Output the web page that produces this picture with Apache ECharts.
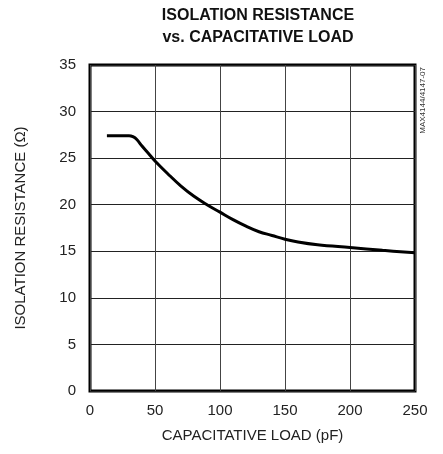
<!DOCTYPE html>
<html>
<head>
<meta charset="utf-8">
<script src="https://cdn.jsdelivr.net/npm/echarts@6/dist/echarts.min.js"></script>
<style>
html,body{margin:0;padding:0;background:#fff;}
#chart{width:443px;height:454px;}
</style>
</head>
<body>
<div id="chart"></div>
<script>
// values
var loadPF = [13, 20, 30, 33, 36, 40, 45, 50, 60, 70, 80, 90, 100, 110, 120, 130, 140, 150, 160, 175, 200, 225, 250];
var resistance = [27.4, 27.4, 27.4, 27.3, 27.0, 26.3, 25.5, 24.7, 23.3, 22.0, 20.9, 20.0, 19.2, 18.4, 17.7, 17.1, 16.7, 16.3, 16.0, 15.7, 15.4, 15.1, 14.85];

var font = '"Liberation Sans Narrow", "Liberation Sans", Arial, sans-serif';
var pts = loadPF.map(function (x, i) { return [x, resistance[i]]; });

var chart = echarts.init(document.getElementById('chart'));
chart.setOption({
    animation: false,
    title: {
        text: 'ISOLATION RESISTANCE\nvs. CAPACITATIVE LOAD',
        left: 253,
        top: 0,
        textAlign: 'center',
        textStyle: { fontFamily: font, fontWeight: 'bold', fontSize: 16, lineHeight: 22, color: '#111' }
    },
    grid: {
        left: 90, right: 28, top: 65, bottom: 63,
        show: true, borderColor: '#000', borderWidth: 3, backgroundColor: '#fff'
    },
    xAxis: {
        type: 'value', min: 0, max: 250, interval: 50,
        name: 'CAPACITATIVE LOAD (pF)', nameLocation: 'middle', nameGap: 37,
        nameTextStyle: { fontFamily: font, fontSize: 15, color: '#222' },
        axisLine: { show: false }, axisTick: { show: false },
        axisLabel: { fontFamily: font, fontSize: 15, color: '#222', margin: 12 },
        splitLine: { lineStyle: { color: '#444', width: 1 } }
    },
    yAxis: {
        type: 'value', min: 0, max: 35, interval: 5,
        name: 'ISOLATION RESISTANCE (\u03A9)', nameLocation: 'middle', nameGap: 62,
        nameTextStyle: { fontFamily: font, fontSize: 15, color: '#222' },
        axisLine: { show: false }, axisTick: { show: false },
        axisLabel: { fontFamily: font, fontSize: 15, color: '#222', margin: 14 },
        splitLine: { lineStyle: { color: '#222', width: 1 } }
    },
    graphic: [{
        type: 'text', left: 419, top: 67, rotation: Math.PI / 2,
        style: { text: 'MAX4144/4147-07', fontFamily: font, fontSize: 8, fill: '#333' }
    }],
    series: [{
        type: 'line', data: pts, smooth: 0.4, showSymbol: false,
        lineStyle: { color: '#000', width: 3 }
    }]
});
</script>
</body>
</html>
